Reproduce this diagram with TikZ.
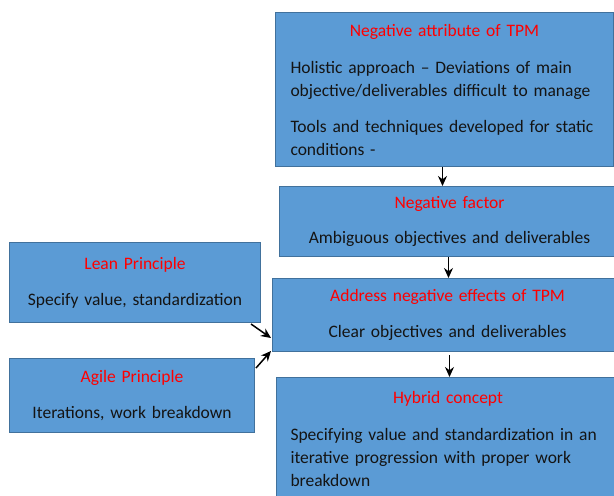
\documentclass[tikz,border=0pt]{standalone}
\usepackage{fontspec}
\setmainfont{Carlito}
\usetikzlibrary{arrows.meta}
\definecolor{boxblue}{HTML}{5B9BD5}
\definecolor{boxline}{HTML}{41719C}
\definecolor{titlered}{HTML}{FF0000}

\begin{document}
\begin{tikzpicture}[
    x=1pt, y=1pt,
    every node/.style={font=\fontsize{17.5}{23}\selectfont},
    box/.style={draw=boxline, fill=boxblue, line width=1pt, inner sep=0pt,
                anchor=north west, align=center, text=black!92},
    link/.style={-{Stealth[length=10pt, width=9pt]}, line width=1.5pt, black}
]
   \useasboundingbox (0,0) rectangle (614,-496);

   % Boxes
   \node[box, text width=338pt, minimum height=154pt] (attr) at (275,-12)
      {\textcolor{titlered}{Negative attribute of TPM}\\[14pt]
       \parbox[t]{308pt}{\raggedright Holistic approach -- Deviations of main\\
       objective/deliverables difficult to manage\\[13pt]
       Tools and techniques developed for static\\ conditions -}};
   \node[box, text width=340pt, minimum height=70pt] (factor) at (279,-186)
      {\textcolor{titlered}{Negative factor}\\[12pt] Ambiguous objectives and deliverables};
   \node[box, text width=350pt, minimum height=73pt] (address) at (272,-278)
      {\textcolor{titlered}{Address negative effects of TPM}\\[13pt] Clear objectives and deliverables};
   \node[box, text width=343pt, minimum height=128pt] (hybrid) at (276,-377)
      {\textcolor{titlered}{Hybrid concept}\\[14pt]
       \parbox[t]{315pt}{\raggedright Specifying value and standardization in an\\
       iterative progression with proper work\\ breakdown\rule[-5pt]{0pt}{0pt}}};
   \node[box, text width=251pt, minimum height=80pt] (lean) at (9,-242)
      {\textcolor{titlered}{Lean Principle}\\[13pt] Specify value, standardization};
   \node[box, text width=245pt, minimum height=74pt] (agile) at (9,-358)
      {\textcolor{titlered}{Agile Principle}\\[13pt] Iterations, work breakdown};

   % Arrows
   \draw[link] ([xshift=-2pt]attr.south) -- ([xshift=-2pt]attr.south |- factor.north);
   \draw[link] ([xshift=-1pt]factor.south) -- ([xshift=-1pt]factor.south |- address.north);
   \draw[link] ([xshift=2pt, yshift=-3pt]address.south) -- ([xshift=2pt]address.south |- hybrid.north);
   \draw[link] ([xshift=-10pt, yshift=-1pt]lean.south east) -- ([xshift=-1pt, yshift=14pt]address.south west);
   \draw[link] ([xshift=1pt, yshift=-10pt]agile.north east) -- ([xshift=-1pt, yshift=1pt]address.south west);
\end{tikzpicture}
\end{document}
